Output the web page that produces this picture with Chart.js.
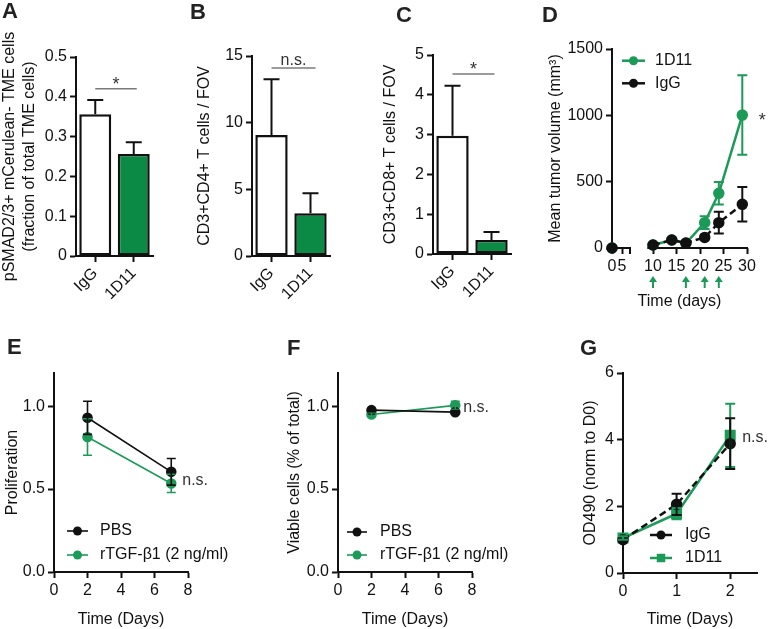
<!DOCTYPE html>
<html>
<head>
<meta charset="utf-8">
<title>TGF-beta blockade panels</title>
<script src="https://cdn.jsdelivr.net/npm/chart.js@4.4.1/dist/chart.umd.min.js"></script>
<style>
  html, body { margin: 0; padding: 0; background: #fff; }
  #fig { position: relative; width: 768px; height: 629px; overflow: hidden; font-family: 'Liberation Sans', Arial, Helvetica, sans-serif; }
  #fig canvas { position: absolute; }
  .letter { position: absolute; font-weight: bold; font-size: 22px; line-height: 1; color: #222; }
</style>
</head>
<body>
<div id="fig">
  <canvas id="chartA"></canvas>
  <canvas id="chartB"></canvas>
  <canvas id="chartC"></canvas>
  <canvas id="chartD"></canvas>
  <canvas id="chartE"></canvas>
  <canvas id="chartF"></canvas>
  <canvas id="chartG"></canvas>
  <div class="letter" style="left:2px;top:0px">A</div>
  <div class="letter" style="left:190px;top:1px">B</div>
  <div class="letter" style="left:396px;top:4px">C</div>
  <div class="letter" style="left:542px;top:4px">D</div>
  <div class="letter" style="left:7px;top:336px">E</div>
  <div class="letter" style="left:287px;top:337px">F</div>
  <div class="letter" style="left:580px;top:337px">G</div>
</div>
<script>
// ---- data ----
// A: pSMAD2/3+ fraction
const catsA = ['IgG', '1D11'];
const meanA = [0.356, 0.256];
const semA = [0.036, 0.030];
const sigA = 0.42;
// B: CD4+ T cells
const catsB = ['IgG', '1D11'];
const meanB = [9.08, 3.2];
const semB = [4.17, 1.5];
const sigB = 14.1;
// C: CD8+ T cells
const catsC = ['IgG', '1D11'];
const meanC = [2.97, 0.35];
const semC = [1.26, 0.2];
const sigC = 4.52;
// D: tumor volume (null = axis break)
const daysD = [0, 9, 10, 14, 17, 21, 24, 29];
const d11D = [0, null, 23, 60, 35, 191, 412, 1002];
const d11ErrD = [0, 0, 0, 0, 0, 48, 85, 300];
const iggD = [0, null, 23, 60, 38, 80, 191, 329];
const iggErrD = [0, 0, 0, 0, 0, 0, 82, 130];
const doseDaysD = [10, 17, 21, 24];
const ticksXD = [0, 5, 10, 15, 20, 25, 30];
// E: proliferation
const daysE = [2, 7];
const pbsE = [0.93, 0.604];
const pbsErrE = [0.10, 0.08];
const tgfE = [0.814, 0.534];
const tgfErrE = [0.11, 0.055];
// F: viability
const daysF = [2, 7];
const pbsF = [0.976, 0.964];
const pbsErrF = [0.01, 0.01];
const tgfF = [0.95, 1.005];
const tgfErrF = [0.01, 0.025];
// G: OD490
const daysG = [0, 1, 2];
const iggG = [1.0, 2.06, 3.88];
const iggErrG = [0, 0.32, 0.76];
const d11G = [1.05, 1.78, 4.13];
const d11ErrG = [0.05, 0.17, 0.95];

const BLACK = '#111111';
const GREEN_BAR = '#0a8a45';
const GREEN_LINE = '#1c9a58';
const SIG_LINE = '#7a7a7a';
const SIG_TEXT = '#333333';
const FONT = "'Liberation Sans', Arial, Helvetica, sans-serif";

Chart.defaults.font.family = FONT;
Chart.defaults.font.size = 16;
Chart.defaults.font.weight = 'normal';
Chart.defaults.color = BLACK;

// split x axis for panel D: 0-9 squeezed, 9-30 wide
const D_BREAK = { low: [0, 9], high: [9, 30], lowEnd: 18 / 135, highStart: 36.3 / 135 };

class BrokenScale extends Chart.LinearScale {
  getPixelForValue(value) {
    if (value === null || value === undefined || isNaN(value)) return NaN;
    const b = D_BREAK;
    const w = this.right - this.left;
    if (value <= b.low[1]) {
      return this.left + (value - b.low[0]) / (b.low[1] - b.low[0]) * b.lowEnd * w;
    }
    return this.left + (b.highStart + (value - b.high[0]) / (b.high[1] - b.high[0]) * (1 - b.highStart)) * w;
  }
  segments() {
    const b = D_BREAK;
    const w = this.right - this.left;
    return [
      [this.getPixelForValue(b.low[0]), this.getPixelForValue(b.low[1])],
      [this.left + b.highStart * w, this.getPixelForValue(b.high[1])]
    ];
  }
}
BrokenScale.id = 'broken';
BrokenScale.defaults = Chart.LinearScale.defaults;
Chart.register(BrokenScale);

const yOf = v => (v !== null && typeof v === 'object') ? v.y : v;

// error bars, brackets, notes, legends, dose arrows
const prism = {
  id: 'prism',
  afterDatasetsDraw(chart, args, o) {
    const ctx = chart.ctx;
    (o.errors || []).forEach(e => {
      const meta = chart.getDatasetMeta(e.ds);
      const ys = chart.scales[meta.yAxisID];
      const vals = chart.data.datasets[e.ds].data;
      ctx.save();
      ctx.strokeStyle = e.color;
      ctx.lineWidth = e.width;
      meta.data.forEach((el, i) => {
        const v = yOf(vals[i]);
        const d = e.err[i];
        if (v === null || v === undefined || !d) return;
        const top = ys.getPixelForValue(v + d);
        const bot = e.mode === 'up' ? ys.getPixelForValue(v) : ys.getPixelForValue(v - d);
        const x = el.x, c = e.cap / 2;
        ctx.beginPath();
        ctx.moveTo(x, top); ctx.lineTo(x, bot);
        ctx.moveTo(x - c, top); ctx.lineTo(x + c, top);
        if (e.mode !== 'up') { ctx.moveTo(x - c, bot); ctx.lineTo(x + c, bot); }
        ctx.stroke();
      });
      ctx.restore();
    });
  },
  afterDraw(chart, args, o) {
    const ctx = chart.ctx;
    const area = chart.chartArea;
    const xs = chart.scales.x, ys = chart.scales.y;
    ctx.save();

    if (o.broken) {
      ctx.strokeStyle = BLACK;
      ctx.lineWidth = 2;
      const segs = xs.segments();
      segs.forEach(([a, b]) => {
        ctx.beginPath(); ctx.moveTo(a - 1, area.bottom); ctx.lineTo(b + 1, area.bottom); ctx.stroke();
      });
      ctx.beginPath(); ctx.moveTo(segs[0][1], area.bottom); ctx.lineTo(segs[0][1], area.bottom + 6); ctx.stroke();
    }

    if (o.arrows) {
      const a = o.arrows;
      ctx.strokeStyle = a.color; ctx.fillStyle = a.color; ctx.lineWidth = 2;
      a.days.forEach(d => {
        const x = xs.getPixelForValue(d);
        const y0 = area.bottom + a.top, y1 = area.bottom + a.top + a.len;
        ctx.beginPath(); ctx.moveTo(x, y1); ctx.lineTo(x, y0 + 3); ctx.stroke();
        ctx.beginPath(); ctx.moveTo(x, y0 - 1); ctx.lineTo(x - 4, y0 + 5); ctx.lineTo(x + 4, y0 + 5); ctx.closePath(); ctx.fill();
      });
    }

    if (o.sig) {
      const s = o.sig;
      const meta = chart.getDatasetMeta(0);
      const x0 = meta.data[0].x, x1 = meta.data[1].x + s.ext;
      const y = ys.getPixelForValue(s.y);
      ctx.strokeStyle = SIG_LINE; ctx.lineWidth = 1.5;
      ctx.beginPath(); ctx.moveTo(x0, y); ctx.lineTo(x1, y); ctx.stroke();
      ctx.fillStyle = SIG_TEXT;
      ctx.textAlign = 'center'; ctx.textBaseline = 'alphabetic';
      ctx.font = s.size + 'px ' + FONT;
      ctx.fillText(s.text, (x0 + x1) / 2, y + s.dy);
    }

    (o.notes || []).forEach(n => {
      ctx.fillStyle = SIG_TEXT;
      ctx.font = n.size + 'px ' + FONT;
      ctx.textAlign = n.align; ctx.textBaseline = 'middle';
      ctx.fillText(n.text, xs.getPixelForValue(n.x) + n.dx, ys.getPixelForValue(n.y) + n.dy);
    });

    if (o.legend) {
      const L = o.legend;
      L.items.forEach((idx, k) => {
        const ds = chart.data.datasets[idx];
        const y = L.y + k * L.dy;
        ctx.strokeStyle = ds.borderColor; ctx.fillStyle = ds.borderColor;
        ctx.lineWidth = ds.borderWidth;
        ctx.beginPath(); ctx.moveTo(L.x, y); ctx.lineTo(L.x + L.len, y); ctx.stroke();
        const cx = L.x + L.len / 2, r = ds.pointRadius;
        ctx.beginPath();
        if (ds.pointStyle === 'rect') {
          const h = r * Math.SQRT1_2;
          ctx.rect(cx - h, y - h, 2 * h, 2 * h);
        } else {
          ctx.arc(cx, y, r, 0, Math.PI * 2);
        }
        ctx.fill();
        ctx.fillStyle = BLACK;
        ctx.font = '16px ' + FONT;
        ctx.textAlign = 'left'; ctx.textBaseline = 'middle';
        ctx.fillText(ds.label, L.x + L.len + L.gap, y);
      });
    }
    ctx.restore();
  }
};
Chart.register(prism);

function axis(extra) {
  const base = {
    border: { display: true, color: BLACK, width: 2 },
    grid: { display: true, drawOnChartArea: false, drawTicks: true, tickLength: 6, color: BLACK, tickColor: BLACK, tickWidth: 2 },
    ticks: { color: BLACK, font: { size: 16, weight: 'normal' }, padding: 3, autoSkip: false, maxRotation: 0 }
  };
  const out = Object.assign({}, base, extra);
  ['border', 'grid', 'ticks'].forEach(k => {
    if (extra[k]) out[k] = Object.assign({}, base[k], extra[k]);
  });
  return out;
}

function title(text, pad, lineHeight) {
  return {
    display: true, text: text, color: BLACK,
    font: { size: 16, weight: 'normal', lineHeight: lineHeight || 1.2 },
    padding: { top: pad, bottom: 0 }
  };
}

const plainNum = v => String(v);

// place a chart so that its plot area lands on given page coords
function panel(id, box, area, cfg) {
  const cv = document.getElementById(id);
  cv.width = box.w; cv.height = box.h;
  cv.style.left = box.x + 'px'; cv.style.top = box.y + 'px';
  cfg.options.responsive = false;
  cfg.options.animation = false;
  cfg.options.events = [];
  cfg.options.layout = { padding: { top: area.t - box.y, right: box.x + box.w - area.r, left: 0, bottom: 0 } };
  cfg.options.scales.x.afterFit = s => { s.height = box.y + box.h - area.b; };
  cfg.options.scales.y.afterFit = s => { s.width = area.l - box.x; };
  cfg.options.plugins.legend = { display: false };
  cfg.options.plugins.tooltip = { enabled: false };
  return new Chart(cv, cfg);
}

function barPanel(id, box, area, cats, means, sems, yMax, yStep, yTitle, titlePad, titleLH, sig) {
  return panel(id, box, area, {
    type: 'bar',
    data: {
      labels: cats,
      datasets: [{
        data: means,
        backgroundColor: ['#ffffff', GREEN_BAR],
        borderColor: BLACK,
        borderWidth: 2.5,
        borderSkipped: false,
        categoryPercentage: 1,
        barPercentage: 0.83
      }]
    },
    options: {
      plugins: {
        prism: {
          errors: [{ ds: 0, err: sems, mode: 'up', cap: 16, color: BLACK, width: 2 }],
          sig: sig
        }
      },
      scales: {
        x: axis({ offset: true, grid: { offset: false }, ticks: { minRotation: 45, maxRotation: 45, padding: 2 } }),
        y: axis({ min: 0, max: yMax, ticks: { stepSize: yStep }, title: title(yTitle, titlePad, titleLH) })
      }
    }
  });
}

const pts = (xs, ys) => xs.map((x, i) => ({ x: x, y: ys[i] }));

function lineSet(label, xs, ys, color, opts) {
  return Object.assign({
    label: label,
    data: pts(xs, ys),
    borderColor: color,
    backgroundColor: color,
    pointBackgroundColor: color,
    pointBorderColor: color,
    borderWidth: 2,
    pointRadius: 4.5,
    pointStyle: 'circle',
    spanGaps: false,
    clip: false,
    tension: 0
  }, opts || {});
}

// ---- A ----
barPanel('chartA', { x: 0, y: 20, w: 185, h: 280 }, { l: 76, t: 57, r: 153, b: 256 },
  catsA, meanA, semA, 0.5, 0.1,
  ['pSMAD2/3+ mCerulean- TME cells', '(fraction of total TME cells)'], 0, 1.25,
  { y: sigA, text: '*', ext: 3, size: 18, dy: 1 });

// ---- B ----
barPanel('chartB', { x: 190, y: 40, w: 170, h: 260 }, { l: 252, t: 56, r: 330, b: 256 },
  catsB, meanB, semB, 15, 5, 'CD3+CD4+ T cells / FOV', 5.4, 1.2,
  { y: sigB, text: 'n.s.', ext: 5, size: 16, dy: -3 });

// ---- C ----
barPanel('chartC', { x: 375, y: 40, w: 165, h: 260 }, { l: 433, t: 55, r: 511, b: 254 },
  catsC, meanC, semC, 5, 1, 'CD3+CD8+ T cells / FOV', 6.4, 1.2,
  { y: sigC, text: '*', ext: 3, size: 18, dy: 0.5 });

// ---- D ----
panel('chartD', { x: 540, y: 30, w: 228, h: 281 }, { l: 612, t: 49, r: 747, b: 248 }, {
  type: 'line',
  data: {
    datasets: [
      lineSet('IgG', daysD, iggD, BLACK, { borderWidth: 2.5, borderDash: [7, 4] }),
      lineSet('1D11', daysD, d11D, GREEN_LINE, { borderWidth: 2.5 })
    ]
  },
  options: {
    plugins: {
      prism: {
        errors: [
          { ds: 1, err: d11ErrD, mode: 'both', cap: 10, color: GREEN_LINE, width: 2 },
          { ds: 0, err: iggErrD, mode: 'both', cap: 10, color: BLACK, width: 2 }
        ],
        broken: true,
        arrows: { days: doseDaysD, top: 29, len: 11, color: GREEN_LINE },
        notes: [{ text: '*', x: 29, y: 995, dx: 20, dy: 5, size: 18, align: 'center' }],
        legend: { x: 82, y: 30.7, dy: 22.6, len: 23, gap: 10, items: [1, 0] }
      }
    },
    scales: {
      x: axis({
        type: 'broken', min: 0, max: 30,
        border: { display: false },
        afterBuildTicks: s => { s.ticks = ticksXD.map(v => ({ value: v })); },
        ticks: { callback: plainNum },
        title: title('Time (days)', 0)
      }),
      y: axis({ min: 0, max: 1500, ticks: { stepSize: 500, callback: plainNum }, title: title('Mean tumor volume (mm³)', 6.4) })
    }
  }
});

// ---- E ----
const tick01 = s => { s.ticks = [0, 0.5, 1].map(v => ({ value: v })); };
const fmt1 = v => Number(v).toFixed(1);

panel('chartE', { x: 0, y: 355, w: 250, h: 274 }, { l: 54, t: 373, r: 188, b: 572 }, {
  type: 'line',
  data: {
    datasets: [
      lineSet('PBS', daysE, pbsE, BLACK, { borderWidth: 1.6 }),
      lineSet('rTGF-β1 (2 ng/ml)', daysE, tgfE, GREEN_LINE, { borderWidth: 1.6 })
    ]
  },
  options: {
    plugins: {
      prism: {
        errors: [
          { ds: 1, err: tgfErrE, mode: 'both', cap: 9, color: GREEN_LINE, width: 1.6 },
          { ds: 0, err: pbsErrE, mode: 'both', cap: 9, color: BLACK, width: 1.6 }
        ],
        notes: [{ text: 'n.s.', x: 7, y: 0.552, dx: 11, dy: 0, size: 16, align: 'left' }],
        legend: { x: 67, y: 176, dy: 24, len: 21, gap: 12, items: [0, 1] }
      }
    },
    scales: {
      x: axis({ type: 'linear', min: 0, max: 8, ticks: { stepSize: 2 }, title: title('Time (Days)', 0) }),
      y: axis({ min: 0, max: 1.2, afterBuildTicks: tick01, ticks: { callback: fmt1 }, title: title('Proliferation', 3.4) })
    }
  }
});

// ---- F ----
panel('chartF', { x: 280, y: 355, w: 240, h: 274 }, { l: 338, t: 373, r: 472, b: 572 }, {
  type: 'line',
  data: {
    datasets: [
      lineSet('PBS', daysF, pbsF, BLACK, { borderWidth: 1.6 }),
      lineSet('rTGF-β1 (2 ng/ml)', daysF, tgfF, GREEN_LINE, { borderWidth: 1.6 })
    ]
  },
  options: {
    plugins: {
      prism: {
        errors: [
          { ds: 1, err: tgfErrF, mode: 'both', cap: 9, color: GREEN_LINE, width: 1.6 },
          { ds: 0, err: pbsErrF, mode: 'both', cap: 9, color: BLACK, width: 1.6 }
        ],
        notes: [{ text: 'n.s.', x: 7, y: 0.99, dx: 8, dy: 0, size: 16, align: 'left' }],
        legend: { x: 67, y: 177, dy: 23, len: 20, gap: 13, items: [0, 1] }
      }
    },
    scales: {
      x: axis({ type: 'linear', min: 0, max: 8, ticks: { stepSize: 2 }, title: title('Time (Days)', 0) }),
      y: axis({ min: 0, max: 1.2, afterBuildTicks: tick01, ticks: { callback: fmt1 }, title: title('Viable cells (% of total)', 5.4) })
    }
  }
});

// ---- G ----
panel('chartG', { x: 575, y: 355, w: 193, h: 274 }, { l: 623, t: 373, r: 757, b: 573 }, {
  type: 'line',
  data: {
    datasets: [
      lineSet('IgG', daysG, iggG, BLACK, { borderWidth: 2.5, borderDash: [7, 4] }),
      lineSet('1D11', daysG, d11G, GREEN_LINE, { borderWidth: 2.5, pointStyle: 'rect', pointRadius: 6 })
    ]
  },
  options: {
    plugins: {
      prism: {
        errors: [
          { ds: 1, err: d11ErrG, mode: 'both', cap: 10, color: GREEN_LINE, width: 2 },
          { ds: 0, err: iggErrG, mode: 'both', cap: 10, color: BLACK, width: 2 }
        ],
        notes: [{ text: 'n.s.', x: 2, y: 4.07, dx: 12, dy: 0, size: 16, align: 'left' }],
        legend: { x: 75, y: 180, dy: 23, len: 22, gap: 13, items: [0, 1] }
      }
    },
    scales: {
      x: axis({ type: 'linear', min: 0, max: 2.5, afterBuildTicks: s => { s.ticks = daysG.map(v => ({ value: v })); }, title: title('Time (Days)', 0) }),
      y: axis({ min: 0, max: 6, ticks: { stepSize: 2 }, title: title('OD490 (norm to D0)', 6.4) })
    }
  }
});
</script>
</body>
</html>
